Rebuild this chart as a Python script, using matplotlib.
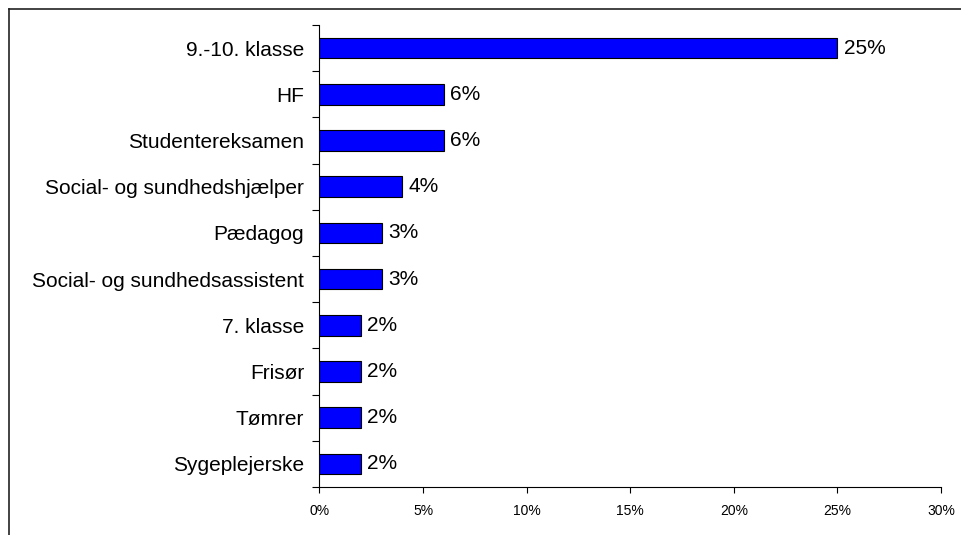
import matplotlib.pyplot as plt
from matplotlib.lines import Line2D
from matplotlib.ticker import FuncFormatter

plt.rcParams['font.family'] = ['Liberation Sans', 'DejaVu Sans']

categories = ["9.-10. klasse", "HF", "Studentereksamen", "Social- og sundhedshjælper",
              "Pædagog", "Social- og sundhedsassistent", "7. klasse", "Frisør",
              "Tømrer", "Sygeplejerske"]
values = [25, 6, 6, 4, 3, 3, 2, 2, 2, 2]
xticks = [0, 5, 10, 15, 20, 25, 30]

W, H = 962, 535
fig = plt.figure(figsize=(W / 100, H / 100), dpi=100)
ax = fig.add_axes([319.5 / W, 1 - 487 / H, (941 - 319.5) / W, (487 - 25) / H])

pos = list(range(len(categories)))
ax.barh(pos, values, height=0.45, color="#0000FF", edgecolor="black", linewidth=0.8)
for p, v in zip(pos, values):
    ax.text(v + 0.3, p, f"{v}%", va="center", ha="left", fontsize=15)

ax.set_ylim(len(categories) - 0.5, -0.5)
ax.set_xlim(0, 30)
ax.set_xticks(xticks)
ax.xaxis.set_major_formatter(FuncFormatter(lambda x, _: f"{x:.0f}%"))
ax.tick_params(axis="x", labelsize=10, length=4, width=0.8, pad=8)
ax.set_yticks([p - 0.5 for p in pos] + [len(pos) - 0.5])
ax.set_yticklabels([])
ax.set_yticks(pos, minor=True)
ax.set_yticklabels(categories, minor=True, fontsize=15)
ax.tick_params(axis="y", which="minor", length=0, pad=11)
ax.tick_params(axis="y", which="major", length=5, width=0.8)
for s in ["top", "right"]:
    ax.spines[s].set_visible(False)
for s in ["left", "bottom"]:
    ax.spines[s].set_linewidth(0.8)

# outer frame (cut at right/bottom)
fig.add_artist(Line2D([8.5 / W, 8.5 / W], [0, 1 - 8.5 / H], color="#222222", lw=1.2, transform=fig.transFigure))
fig.add_artist(Line2D([8.5 / W, 1], [1 - 8.5 / H, 1 - 8.5 / H], color="#222222", lw=1.2, transform=fig.transFigure))

fig.savefig("out.png", dpi=100)
